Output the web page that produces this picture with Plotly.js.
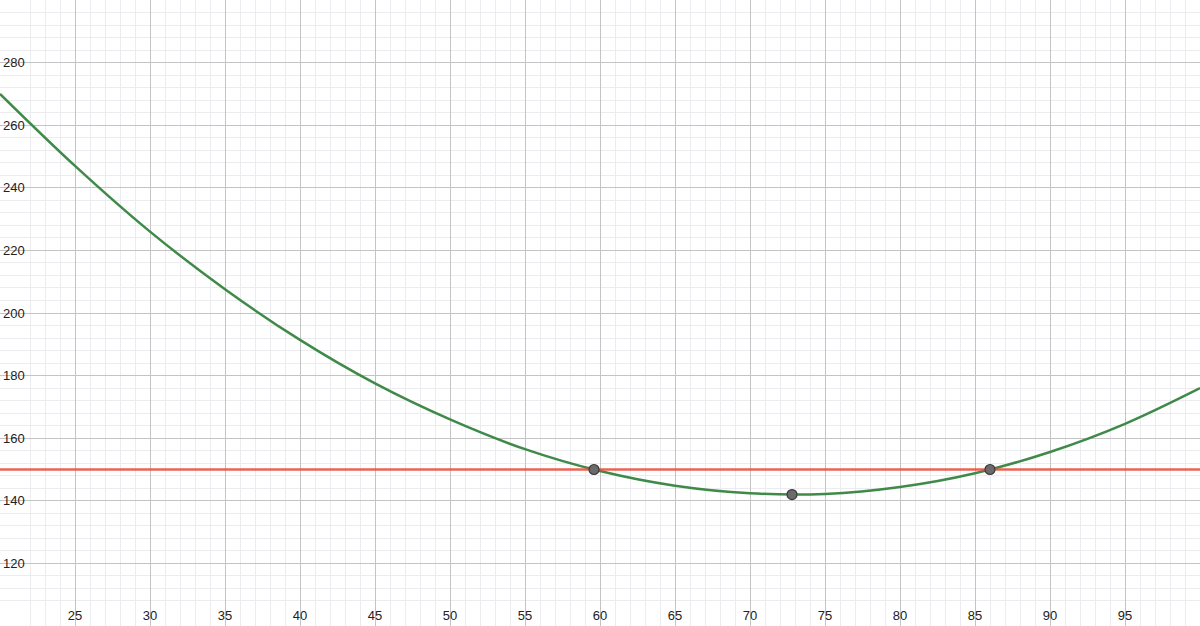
<!DOCTYPE html>
<html>
<head>
<meta charset="utf-8">
<script src="https://cdn.plot.ly/plotly-3.0.1.min.js"></script>
<style>
  html, body { margin: 0; padding: 0; background: #fff; }
  #graph { width: 1200px; height: 626px; }
</style>
</head>
<body>
<div id="graph"></div>
<script>
// curve (x, y)
var curveX = [20, 25, 30, 35, 40, 45, 50, 55, 60, 65, 70, 75, 80, 85, 90, 95, 100];
var curveY = [270, 247, 226, 207.6, 191.4, 177.5, 166, 156.5, 149.5, 144.8, 142.4, 142.2, 144.4, 148.8, 155.6, 164.6, 176];

// horizontal level line
var levelX = [20, 100];
var levelY = [150, 150];

// marked points: two crossings and the minimum
var pointX = [59.6, 72.8, 86];
var pointY = [150, 142, 150];

var xTicks = [25, 30, 35, 40, 45, 50, 55, 60, 65, 70, 75, 80, 85, 90, 95];
var yTicks = [120, 140, 160, 180, 200, 220, 240, 260, 280];

var curve = {
  x: curveX, y: curveY,
  mode: 'lines',
  line: { color: '#3f8a49', width: 2.5, shape: 'spline', smoothing: 1 },
  hoverinfo: 'skip'
};

var level = {
  x: levelX, y: levelY,
  mode: 'lines',
  line: { color: 'rgba(232,72,52,0.85)', width: 2.5 },
  hoverinfo: 'skip'
};

var points = {
  x: pointX, y: pointY,
  mode: 'markers',
  marker: { size: 10, color: '#6b6b6b', line: { color: '#3a3a3a', width: 1.2 } },
  hoverinfo: 'skip'
};

var axisFont = { family: 'Liberation Sans, Arial, sans-serif', size: 13, color: '#222' };

var layout = {
  width: 1200,
  height: 626,
  margin: { l: 0, r: 0, t: 0, b: 0 },
  paper_bgcolor: '#ffffff',
  plot_bgcolor: '#ffffff',
  showlegend: false,
  xaxis: {
    range: [20, 100],
    tickvals: xTicks,
    ticktext: xTicks.map(String),
    ticklabelposition: 'inside',
    ticks: '',
    tickfont: axisFont,
    showgrid: true,
    gridcolor: '#c4c4c4',
    gridwidth: 1,
    zeroline: false,
    showline: false,
    minor: { dtick: 1, tick0: 0, showgrid: true, gridcolor: '#ececf0', gridwidth: 1 },
    fixedrange: true
  },
  yaxis: {
    range: [100, 300],
    tickvals: yTicks,
    ticktext: yTicks.map(String),
    ticklabelposition: 'inside',
    ticks: '',
    tickfont: axisFont,
    showgrid: true,
    gridcolor: '#c4c4c4',
    gridwidth: 1,
    zeroline: false,
    showline: false,
    minor: { dtick: 4, tick0: 0, showgrid: true, gridcolor: '#ececf0', gridwidth: 1 },
    fixedrange: true
  },
  shapes: [
    // major gridlines at the range edges (x = 20, x = 100)
  ]
};

// grid at x = 20 (left edge), drawn through the axis as an extra major value
layout.xaxis.tickvals = [20].concat(xTicks);
layout.xaxis.ticktext = [''].concat(xTicks.map(String));

Plotly.newPlot('graph', [curve, level, points], layout, { staticPlot: true });
</script>
</body>
</html>
